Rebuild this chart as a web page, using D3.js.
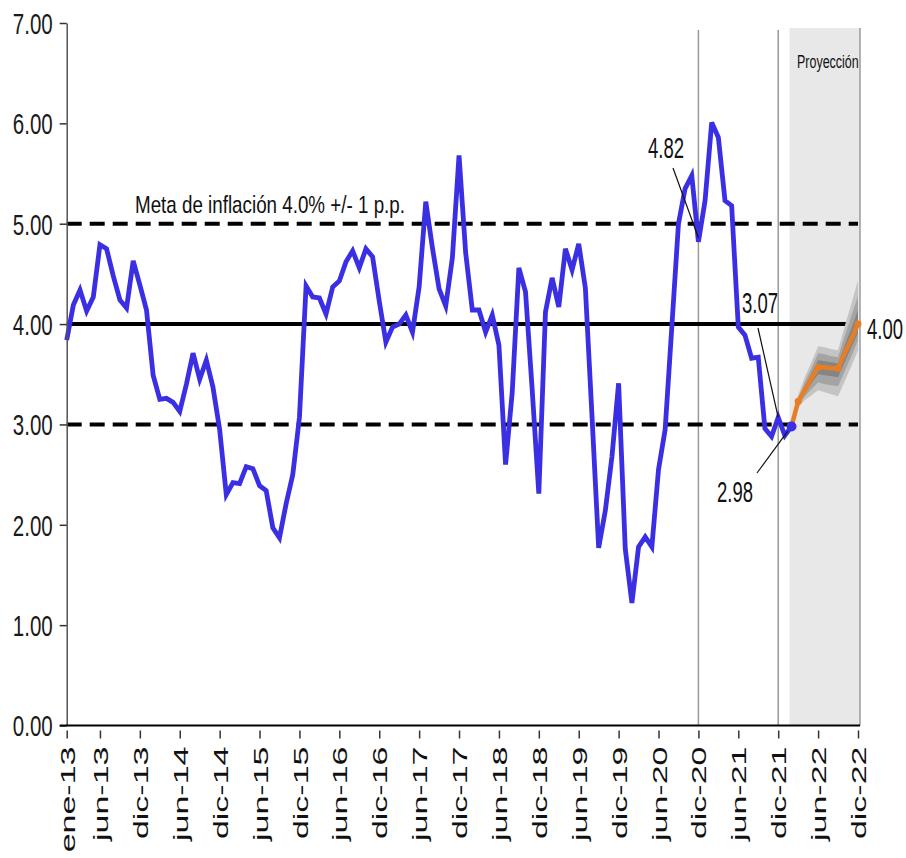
<!DOCTYPE html>
<html><head><meta charset="utf-8">
<script src="https://cdn.jsdelivr.net/npm/d3@7"></script>
<style>body{margin:0;background:#fff;} svg{display:block;}</style>
</head><body>
<svg id="chart" width="906" height="858"></svg>
<script>
// ---- data (monthly, index 0 = ene-13) ----
const inflation = [
  3.84, 4.19, 4.34, 4.13, 4.27, 4.79, 4.75, 4.48, 4.24, 4.16, 4.63, 4.39,
  4.14, 3.49, 3.25, 3.26, 3.22, 3.13, 3.40, 3.71, 3.45, 3.64, 3.37, 2.95,
  2.30, 2.42, 2.41, 2.58, 2.56, 2.39, 2.34, 1.97, 1.87, 2.21, 2.50, 3.07,
  4.38, 4.27, 4.26, 4.10, 4.37, 4.43, 4.62, 4.73, 4.56, 4.75, 4.67, 4.23,
  3.82, 3.97, 4.00, 4.09, 3.92, 4.37, 5.22, 4.76, 4.35, 4.18, 4.66, 5.68,
  4.71, 4.14, 4.14, 3.92, 4.09, 3.79, 2.60, 3.32, 4.56, 4.32, 3.35, 2.31,
  4.12, 4.46, 4.17, 4.75, 4.54, 4.80, 4.36, 3.08, 1.77, 2.14, 2.68, 3.41,
  1.76, 1.22, 1.78, 1.88, 1.78, 2.55, 2.95, 3.97, 5.00, 5.35, 5.48, 4.82,
  5.23, 6.01, 5.86, 5.23, 5.18, 3.97, 3.89, 3.66, 3.67, 2.96, 2.88, 3.07,
  2.89, 2.98
];
const projStart = 109; // feb-22
const projection = [2.98, 3.23, 3.34, 3.46, 3.57, 3.57, 3.56, 3.56, 3.71, 3.85, 4.00];
const fanOuterHi = [2.98, 3.29, 3.47, 3.62, 3.78, 3.77, 3.75, 3.74, 3.98, 4.20, 4.44];
const fanOuterLo = [2.98, 3.17, 3.24, 3.29, 3.34, 3.32, 3.30, 3.28, 3.43, 3.58, 3.74];
const fanMidHi   = [2.98, 3.26, 3.42, 3.56, 3.71, 3.70, 3.68, 3.67, 3.88, 4.08, 4.28];
const fanMidLo   = [2.98, 3.19, 3.28, 3.35, 3.42, 3.40, 3.39, 3.38, 3.53, 3.68, 3.84];
const fanInnerHi = [2.98, 3.24, 3.38, 3.51, 3.64, 3.63, 3.62, 3.61, 3.79, 3.96, 4.14];
const fanInnerLo = [2.98, 3.21, 3.31, 3.41, 3.50, 3.49, 3.48, 3.47, 3.62, 3.77, 3.91];
const tickMonths = [0,5,11,17,23,29,35,41,47,53,59,65,71,77,83,89,95,101,107,113,119];
const tickLabels = ["ene-13","jun-13","dic-13","jun-14","dic-14","jun-15","dic-15","jun-16","dic-16",
  "jun-17","dic-17","jun-18","dic-18","jun-19","dic-19","jun-20","dic-20","jun-21","dic-21","jun-22","dic-22"];
const yTicks = [0,1,2,3,4,5,6,7];
const targetValue = 4.0;
const bandValues = [3.0, 5.0];
const vLineMonths = [95, 107];
const shadeRange = [108.7, 119.3];
const annotations = [
  {idx: 95, value: 4.82, label: "4.82"},
  {idx: 107, value: 3.07, label: "3.07"},
  {idx: 109, value: 2.98, label: "2.98"}
];
const metaLabel = "Meta de inflación 4.0% +/- 1 p.p.";
const projLabel = "Proyección";

// ---- drawing ----
const FONT = "'Liberation Sans', Arial, sans-serif";
const svg = d3.select("#chart");
svg.append("rect").attr("width", 906).attr("height", 858).attr("fill", "#fff");

const x = d3.scaleLinear().domain([0, 119]).range([66.7, 858]);
const y = d3.scaleLinear().domain([0, 7]).range([725.5, 23]);

// projection shading
svg.append("rect")
  .attr("x", x(shadeRange[0])).attr("y", y(6.95))
  .attr("width", x(shadeRange[1]) - x(shadeRange[0]))
  .attr("height", y(0) - y(6.95))
  .attr("fill", "#e8e8e8");
svg.append("line")
  .attr("x1", x(shadeRange[1])).attr("x2", x(shadeRange[1]))
  .attr("y1", y(6.95)).attr("y2", y(0))
  .attr("stroke", "#9a9a9a").attr("stroke-width", 1.5);

// vertical markers
svg.selectAll(".vline").data(vLineMonths).join("line")
  .attr("x1", d => x(d)).attr("x2", d => x(d))
  .attr("y1", y(6.93)).attr("y2", y(0))
  .attr("stroke", "#9a9a9a").attr("stroke-width", 1.5);

// reference lines
svg.append("line")
  .attr("x1", x(0)).attr("x2", x(119)).attr("y1", y(targetValue)).attr("y2", y(targetValue))
  .attr("stroke", "#000").attr("stroke-width", 4);
svg.selectAll(".band").data(bandValues).join("line")
  .attr("x1", x(0)).attr("x2", x(119)).attr("y1", d => y(d)).attr("y2", d => y(d))
  .attr("stroke", "#000").attr("stroke-width", 4).attr("stroke-dasharray", "15,8");

// observed series
const line = d3.line().x((d, i) => x(i)).y(d => y(d));
svg.append("path").datum(inflation)
  .attr("d", line).attr("fill", "none")
  .attr("stroke", "#3b2fe3").attr("stroke-width", 4.8);

// fan chart
const projIdx = projection.map((d, i) => projStart + i);
const area = (hi, lo) => d3.area().x((d, i) => x(projIdx[i])).y0((d, i) => y(lo[i])).y1((d, i) => y(hi[i]))(hi);
svg.append("path").attr("d", area(fanOuterHi, fanOuterLo)).attr("fill", "#c4c4c4");
svg.append("path").attr("d", area(fanMidHi, fanMidLo)).attr("fill", "#a4a4a4");
svg.append("path").attr("d", area(fanInnerHi, fanInnerLo)).attr("fill", "#858585");

// projection line
svg.append("path").datum(projection)
  .attr("d", d3.line().x((d, i) => x(projIdx[i])).y(d => y(d)))
  .attr("fill", "none").attr("stroke", "#e57e25").attr("stroke-width", 4.5);
svg.selectAll(".pdot").data(projection.map((d, i) => ({v: d, i})).filter(d => d.i > 0 && (d.i - 1) % 3 === 0))
  .join("circle")
  .attr("cx", d => x(projIdx[d.i]))
  .attr("cy", d => y(d.v)).attr("r", 3.5).attr("fill", "#e57e25");
svg.append("circle").attr("cx", x(projStart)).attr("cy", y(inflation[projStart]))
  .attr("r", 5).attr("fill", "#3b2fe3");

// axes
const yAxis = svg.append("g").attr("transform", `translate(${x(0)},0)`)
  .call(d3.axisLeft(y).tickValues(yTicks).tickSize(7).tickSizeOuter(0).tickFormat(d3.format(".2f")));
yAxis.select(".domain").attr("stroke", "#555").attr("stroke-width", 1.5);
yAxis.selectAll(".tick line").attr("stroke", "#333").attr("stroke-width", 1.5);
yAxis.selectAll(".tick text")
  .attr("x", null).attr("dy", "0.36em")
  .attr("transform", "translate(-14,0) scale(1.0,1.42)")
  .attr("font-family", FONT).attr("font-size", 20.5).attr("fill", "#1a1a1a")
  .attr("text-anchor", "end");

const xAxis = svg.append("g").attr("transform", `translate(0,${y(0)})`)
  .call(d3.axisBottom(x).tickValues(tickMonths).tickSizeOuter(0).tickFormat((d, i) => tickLabels[i]));
xAxis.select(".domain").attr("stroke", "#000").attr("stroke-width", 2)
  .attr("d", `M${x(0) - 7},0H${x(119) + 2}`);
xAxis.selectAll(".tick line").attr("y1", 5).attr("y2", 13).attr("stroke", "#333").attr("stroke-width", 1.5);
xAxis.selectAll(".tick text")
  .attr("y", null).attr("dy", "0.36em")
  .attr("transform", "translate(0,21) rotate(-90) scale(1.62,1)")
  .attr("text-anchor", "end")
  .attr("font-family", FONT).attr("font-size", 21).attr("fill", "#111");

// texts
function label(txt, px, py, size, sx, sy, anchor) {
  svg.append("text").text(txt)
    .attr("transform", `translate(${px},${py}) scale(${sx},${sy})`)
    .attr("font-family", FONT).attr("font-size", size).attr("fill", "#111")
    .attr("text-anchor", anchor || "start");
}
label(metaLabel, 135, 213, 18.8, 1, 1.32);
label(projLabel, 797, 68, 12.5, 1, 1.45);
label(d3.format(".2f")(projection[projection.length - 1]), 867, 339, 18.5, 1, 1.6);

// annotation texts + leader lines
const annPos = [
  {tx: 648, ty: 158, lx: 673, ly: 168, ex: 0, ey: -4},
  {tx: 742, ty: 313, lx: 758, ly: 328, ex: 0, ey: 0},
  {tx: 717, ty: 502, lx: 757, ly: 473, ex: -4, ey: 5}
];
annotations.forEach((a, i) => {
  const p = annPos[i];
  label(a.label, p.tx, p.ty, 18.5, 1, 1.6);
  svg.append("line")
    .attr("x1", p.lx).attr("y1", p.ly)
    .attr("x2", x(a.idx) + p.ex).attr("y2", y(a.value) + p.ey)
    .attr("stroke", "#111").attr("stroke-width", 1.2);
});
</script>
</body></html>
